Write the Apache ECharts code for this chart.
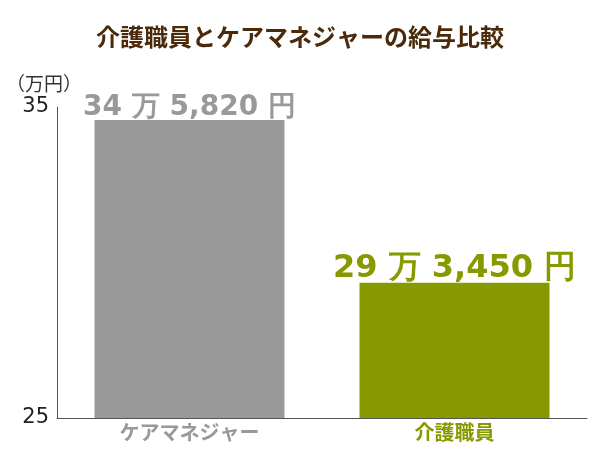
<!DOCTYPE html>
<html>
<head>
<meta charset="utf-8">
<script src="https://cdn.jsdelivr.net/npm/echarts@6/dist/echarts.min.js"></script>
<style>html,body{margin:0;padding:0;background:#fff}</style>
</head>
<body>
<div id="chart" style="width:600px;height:450px"></div>
<script>
var categories = ['ケアマネジャー', '介護職員']
var values = [34.582, 29.345]
var valueLabels = ['34 万 5,820 円', '29 万 3,450 円']
var colors = ['#999999', '#869a00']
var labelSizes = [28, 32]

var myChart = echarts.init(document.getElementById('chart'))
myChart.setOption({
  animation: false,
  title: {
    text: '介護職員とケアマネジャーの給与比較',
    left: 'center', top: 20,
    textStyle: {color: '#4a2a0a', fontSize: 24, fontWeight: 'bold', fontFamily: 'Noto Sans CJK JP'}
  },
  grid: {left: 57, right: 13, top: 107, bottom: 32, containLabel: false},
  graphic: [{
    type: 'text', left: 6, top: 74,
    style: {text: '（万円）', fontSize: 19, fill: '#333', fontFamily: 'Noto Sans CJK JP'}
  }],
  xAxis: {
    type: 'category',
    data: categories,
    axisTick: {show: false},
    axisLine: {lineStyle: {color: '#555'}},
    axisLabel: {
      margin: 4,
      fontFamily: 'Noto Sans CJK JP', fontSize: 20, fontWeight: 'bold',
      color: function (v, i) { return colors[i] }
    }
  },
  yAxis: {
    type: 'value', min: 25, max: 35, interval: 10,
    splitLine: {show: false},
    axisTick: {show: false},
    axisLine: {show: true, lineStyle: {color: '#555'}},
    axisLabel: {fontSize: 21, color: '#222', fontFamily: 'DejaVu Sans', margin: 8}
  },
  series: [{
    type: 'bar',
    barWidth: 190,
    data: values.map(function (v, i) {
      return {
        value: v,
        itemStyle: {color: colors[i]},
        label: {
          show: true, position: 'top', distance: -2,
          formatter: valueLabels[i],
          color: colors[i], fontSize: labelSizes[i], fontWeight: 'bold',
          fontFamily: 'DejaVu Sans'
        }
      }
    })
  }]
})
</script>
</body>
</html>
